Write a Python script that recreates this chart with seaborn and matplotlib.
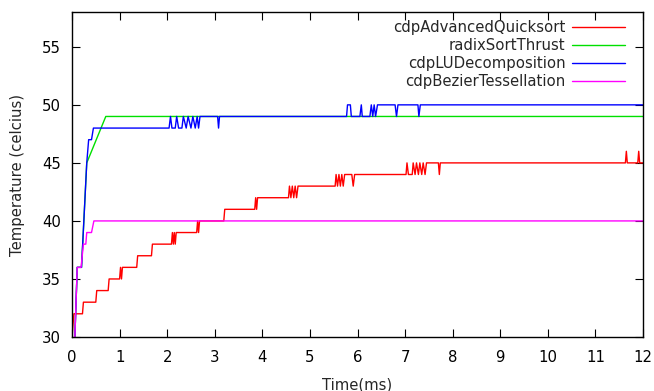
import matplotlib
matplotlib.use("Agg")
import matplotlib.pyplot as plt
import seaborn as sns
import pandas as pd

# ---- data (time in ms, temperature in celcius) ----
series_names = ["cdpAdvancedQuicksort", "radixSortThrust",
                "cdpLUDecomposition", "cdpBezierTessellation"]

quick_t = [0.00, 0.04, 0.22, 0.24, 0.50, 0.52, 0.76, 0.78, 1.00, 1.02, 1.04, 1.06,
           1.36, 1.38, 1.67, 1.69, 2.09, 2.11, 2.13, 2.15, 2.17, 2.19, 2.62, 2.64,
           2.66, 2.68, 3.19, 3.21, 3.84, 3.86, 3.88, 3.90, 4.55, 4.57, 4.60, 4.63,
           4.66, 4.69, 4.72, 4.75, 5.53, 5.55, 5.58, 5.61, 5.64, 5.67, 5.70, 5.73,
           5.76, 5.88, 5.91, 5.94, 7.02, 7.04, 7.07, 7.09, 7.15, 7.17, 7.21, 7.24,
           7.28, 7.31, 7.35, 7.38, 7.42, 7.45, 7.59, 7.70, 7.72, 7.74, 11.63, 11.65,
           11.67, 11.89, 11.91, 11.93, 12.00]
quick_v = [30, 32, 32, 33, 33, 34, 34, 35, 35, 36, 35, 36,
           36, 37, 37, 38, 38, 39, 38, 39, 38, 39, 39, 40,
           39, 40, 40, 41, 41, 42, 41, 42, 42, 43, 42, 43,
           42, 43, 42, 43, 43, 44, 43, 44, 43, 44, 43, 44,
           44, 44, 43, 44, 44, 45, 44, 44, 44, 45, 44, 45,
           44, 45, 44, 45, 44, 45, 45, 45, 44, 45, 45, 46,
           45, 45, 46, 45, 45]

radix_t = [0.06, 0.11, 0.20, 0.31, 0.71, 12.00]
radix_v = [30, 36, 36, 45, 49, 49]

lu_t = [0.06, 0.11, 0.20, 0.31, 0.35, 0.41, 0.45, 2.04, 2.07, 2.10, 2.17, 2.20,
        2.24, 2.31, 2.34, 2.40, 2.44, 2.50, 2.54, 2.59, 2.63, 2.66, 2.69, 3.06,
        3.08, 3.10, 5.77, 5.79, 5.85, 5.87, 6.05, 6.08, 6.10, 6.26, 6.29, 6.32,
        6.35, 6.38, 6.42, 6.79, 6.82, 6.85, 7.27, 7.29, 7.32, 12.00]
lu_v = [30, 36, 36, 45, 47, 47, 48, 48, 49, 48, 48, 49,
        48, 48, 49, 48, 49, 48, 49, 48, 49, 48, 49, 49,
        48, 49, 49, 50, 50, 49, 49, 50, 49, 49, 50, 49,
        50, 49, 50, 50, 49, 50, 50, 49, 50, 50]

bez_t = [0.06, 0.11, 0.19, 0.24, 0.29, 0.31, 0.41, 0.46, 12.00]
bez_v = [30, 36, 36, 38, 38, 39, 39, 40, 40]

x_ticks = [0, 1, 2, 3, 4, 5, 6, 7, 8, 9, 10, 11, 12]
y_ticks = [30, 35, 40, 45, 50, 55]

colors = ["#ff0000", "#00e000", "#0000ff", "#ff00ff"]

frames = []
for name, t, v in zip(series_names,
                      [quick_t, radix_t, lu_t, bez_t],
                      [quick_v, radix_v, lu_v, bez_v]):
    frames.append(pd.DataFrame({"time": t, "temp": v, "series": name}))
df = pd.concat(frames, ignore_index=True)

# ---- style ----
sns.set_style("ticks")
plt.rcParams["font.family"] = ["DejaVu Sans"]
plt.rcParams["font.size"] = 10.7

fig = plt.figure(figsize=(6.54, 3.91), dpi=100)
ax = fig.add_axes([72 / 654, 1 - 337 / 391, 571 / 654, 325 / 391])

sns.lineplot(data=df, x="time", y="temp", hue="series", hue_order=series_names,
             palette=colors, estimator=None, sort=False, linewidth=1.0,
             ax=ax, legend=False)

ax.set_xlim(0, 12)
ax.set_ylim(30, 58)
ax.set_xticks(x_ticks)
ax.set_yticks(y_ticks)
ax.tick_params(direction="in", length=5.5, width=0.8, top=True, right=True,
               labelsize=10.7, colors="black")
ax.tick_params(axis="x", pad=9)
ax.tick_params(axis="y", pad=8)
for s in ax.spines.values():
    s.set_linewidth(1.0)
    s.set_color("black")

ax.set_xlabel("Time(ms)", fontsize=10.7, labelpad=9)
ax.set_ylabel("Temperature (celcius)", fontsize=10.7, labelpad=12)

leg = ax.legend(ax.lines[:4], series_names, loc="upper right",
                bbox_to_anchor=(1 - 18 / 571, 1 - 8 / 325), frameon=False,
                markerfirst=False, handlelength=3.6, handletextpad=0.4,
                labelspacing=0.2, borderpad=0, borderaxespad=0,
                fontsize=10.7)

fig.savefig("out.png", dpi=100)
